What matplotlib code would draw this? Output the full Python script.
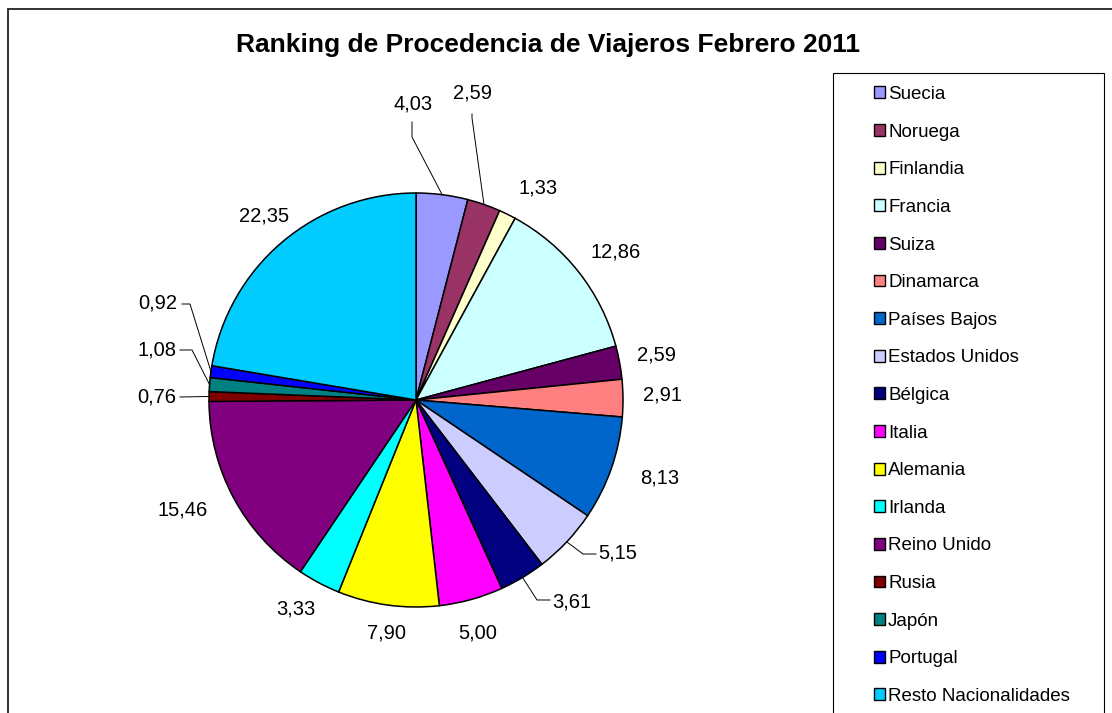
import numpy as np
import matplotlib
matplotlib.use("Agg")
import matplotlib.pyplot as plt
from matplotlib.patches import Patch, Rectangle
from matplotlib.lines import Line2D

plt.rcParams['font.family'] = ['Liberation Sans', 'DejaVu Sans']

# data
countries = ["Suecia", "Noruega", "Finlandia", "Francia", "Suiza", "Dinamarca",
             "Países Bajos", "Estados Unidos", "Bélgica", "Italia", "Alemania",
             "Irlanda", "Reino Unido", "Rusia", "Japón", "Portugal",
             "Resto Nacionalidades"]
shares = [4.03, 2.59, 1.33, 12.86, 2.59, 2.91, 8.13, 5.15, 3.61, 5.00, 7.90,
          3.33, 15.46, 0.76, 1.08, 0.92, 22.35]
colors = ["#9999FF", "#993366", "#FFFFCC", "#CCFFFF", "#660066", "#FF8080",
          "#0066CC", "#CCCCFF", "#000080", "#FF00FF", "#FFFF00", "#00FFFF",
          "#800080", "#800000", "#008080", "#0000FF", "#00CCFF"]

# layout (pixels in the 1112x713 picture)
W, H = 1112, 713
cx, cy, R = 416, 400, 207
label_px = [(413, 104), (473, 93), (538, 188), (616, 252), (657, 355),
            (662, 395), (660, 478), (618, 553), (572, 602), (478, 633),
            (387, 633), (296, 609), (183, 510), (157, 397), (157, 350),
            (158, 303), (264, 216)]
# leader lines: text-side points (pixels), ending at wedge edge
leaders = {0: [(412, 122), (412, 137)],
           1: [(472, 114), (472, 118)],
           7: [(596, 554), (583, 554)],
           8: [(550, 600), (537, 600)],
           13: [(180, 397)],
           14: [(180, 350), (192, 350)],
           15: [(182, 304), (190, 304)]}


def to_data(p):
    return ((p[0] - cx) / R, (cy - p[1]) / R)


fig = plt.figure(figsize=(W / 100, H / 100), dpi=100)
S = 320
ax = fig.add_axes([(cx - S) / W, (H - cy - S) / H, 2 * S / W, 2 * S / H])

ax.pie(shares, colors=colors, startangle=90, counterclock=False, radius=1,
       wedgeprops=dict(edgecolor='black', linewidth=1.1))
ax.set_xlim(-S / R, S / R)
ax.set_ylim(-S / R, S / R)
ax.set_aspect('equal')
ax.axis('off')

total = sum(shares)
cum = np.cumsum([0] + shares)
for i, v in enumerate(shares):
    mid = (cum[i] + v / 2) / total * 2 * np.pi
    edge = (np.sin(mid), np.cos(mid))
    lx, ly = to_data(label_px[i])
    ax.text(lx, ly, f"{v:.2f}".replace('.', ','), ha='center', va='center',
            fontsize=14.5, color='black')
    if i in leaders:
        pts = [to_data(p) for p in leaders[i]] + [edge]
        xs, ys = zip(*pts)
        ax.add_line(Line2D(xs, ys, color='black', lw=0.7))

fig.text(548 / W, 1 - 45 / H, "Ranking de Procedencia de Viajeros Febrero 2011",
         ha='center', va='center', fontsize=19, fontweight='bold')

# legend
handles = [Patch(facecolor=c, edgecolor='black', linewidth=1.0) for c in colors]
fig.legend(handles, countries, loc='upper left',
           bbox_to_anchor=(874 / W, 1 - 86 / H), frameon=False, fontsize=13.5,
           handlelength=0.6, handleheight=0.6, handletextpad=0.15,
           labelspacing=1.1, borderaxespad=0, borderpad=0)
fig.add_artist(Rectangle((833 / W, -0.05), (1104 - 833) / W, 1.05 - 73 / H,
                         transform=fig.transFigure, fill=False,
                         edgecolor='black', lw=0.8))
# outer chart border
fig.add_artist(Rectangle((8 / W, -0.05), 1.1, 1.05 - 9 / H,
                         transform=fig.transFigure, fill=False,
                         edgecolor='#222222', lw=1.3))

fig.savefig("out.png", dpi=100)
